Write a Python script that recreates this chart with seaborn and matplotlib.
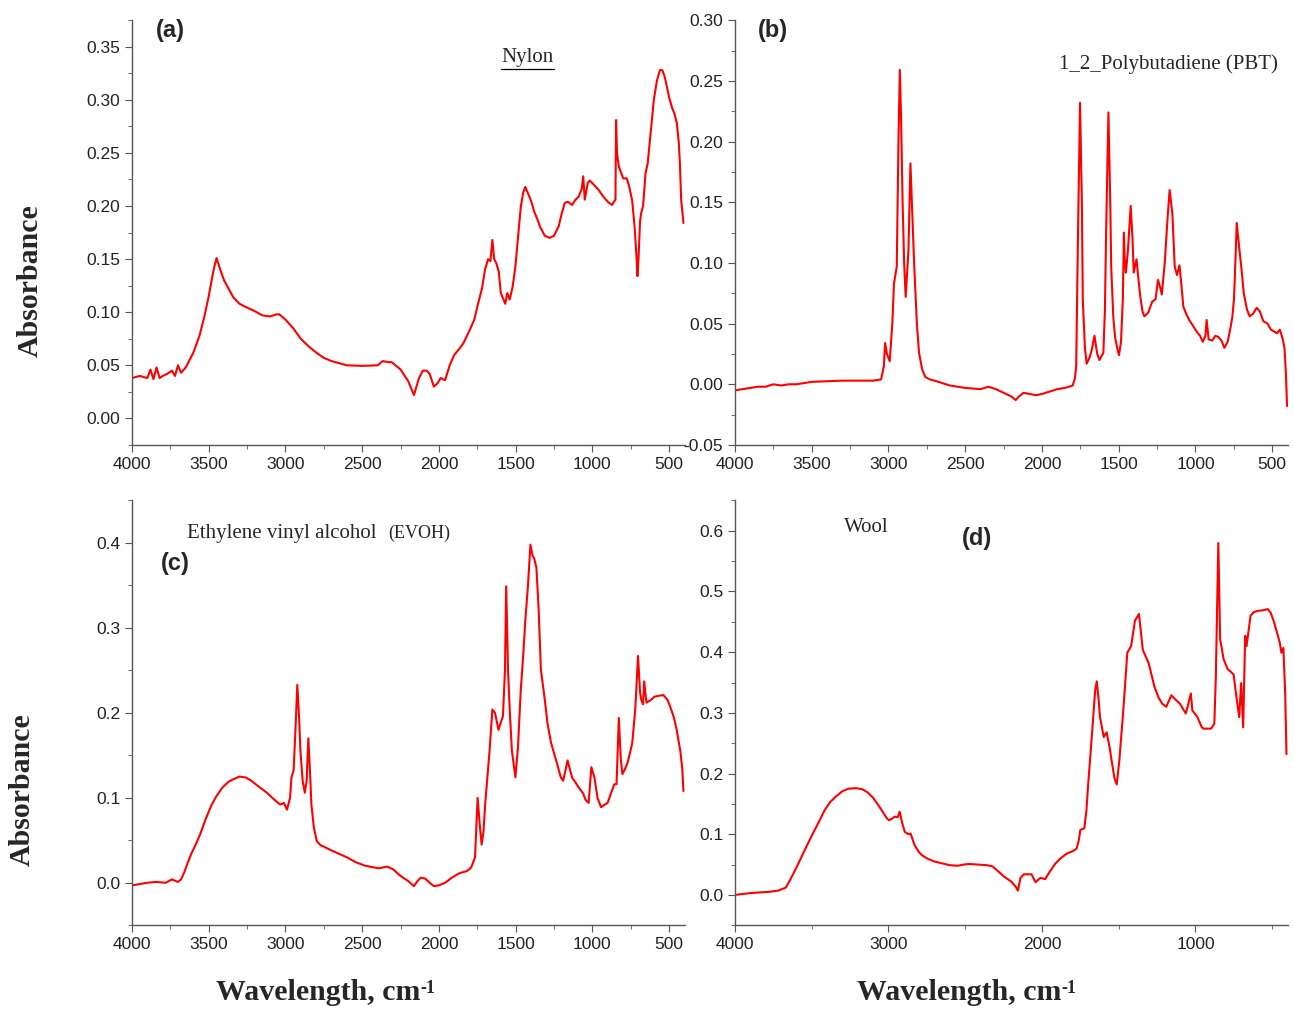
import numpy as np
import pandas as pd
import matplotlib
matplotlib.use('Agg')
import matplotlib.pyplot as plt
from matplotlib.ticker import MultipleLocator, FormatStrFormatter
import seaborn as sns

# (wavenumber, absorbance)
nylon = [(4000, 0.038), (3950, 0.040), (3900, 0.038), (3880, 0.046), (3860, 0.037), (3840, 0.048),
         (3820, 0.038), (3800, 0.040), (3770, 0.042), (3740, 0.045), (3720, 0.040), (3700, 0.050),
         (3680, 0.043), (3650, 0.048), (3600, 0.062), (3560, 0.078), (3530, 0.095), (3500, 0.115),
         (3475, 0.135), (3460, 0.145), (3449, 0.151), (3420, 0.138), (3400, 0.130), (3370, 0.122),
         (3340, 0.114), (3300, 0.108), (3260, 0.105), (3200, 0.101), (3150, 0.097), (3100, 0.096),
         (3060, 0.098), (3040, 0.098), (3000, 0.093), (2950, 0.085), (2900, 0.075), (2850, 0.068),
         (2800, 0.062), (2750, 0.057), (2700, 0.054), (2650, 0.052), (2600, 0.050), (2500, 0.0495),
         (2400, 0.050), (2366, 0.054), (2330, 0.053), (2308, 0.053), (2250, 0.046), (2200, 0.035),
         (2163, 0.022), (2130, 0.038), (2105, 0.045), (2080, 0.045), (2061, 0.042), (2033, 0.030),
         (2010, 0.033), (1989, 0.038), (1960, 0.036), (1930, 0.050), (1900, 0.060), (1870, 0.065),
         (1840, 0.071), (1800, 0.083), (1770, 0.093), (1740, 0.111), (1720, 0.122), (1700, 0.140),
         (1680, 0.150), (1665, 0.148), (1652, 0.168), (1640, 0.150), (1626, 0.146), (1610, 0.138),
         (1597, 0.118), (1580, 0.112), (1568, 0.108), (1555, 0.118), (1539, 0.112), (1520, 0.124),
         (1502, 0.143), (1485, 0.170), (1467, 0.199), (1452, 0.212), (1438, 0.218), (1420, 0.212),
         (1400, 0.205), (1380, 0.195), (1360, 0.188), (1340, 0.180), (1310, 0.172), (1280, 0.170),
         (1250, 0.172), (1220, 0.181), (1200, 0.193), (1180, 0.203), (1160, 0.204), (1133, 0.201),
         (1110, 0.206), (1089, 0.209), (1070, 0.216), (1060, 0.228), (1050, 0.206), (1030, 0.222),
         (1017, 0.224), (990, 0.220), (959, 0.215), (930, 0.209), (900, 0.204), (872, 0.201),
         (860, 0.204), (850, 0.206), (846, 0.281), (840, 0.250), (828, 0.237), (799, 0.226),
         (776, 0.226), (760, 0.218), (741, 0.205), (725, 0.180), (712, 0.150), (707, 0.134),
         (700, 0.150), (690, 0.185), (683, 0.193), (670, 0.200), (654, 0.231), (640, 0.240),
         (620, 0.270), (600, 0.300), (580, 0.318), (560, 0.328), (545, 0.328), (530, 0.322),
         (520, 0.316), (500, 0.302), (480, 0.292), (466, 0.287), (450, 0.278), (437, 0.259),
         (430, 0.240), (422, 0.206), (407, 0.184)]

pbt = [(4000, -0.005), (3900, -0.003), (3850, -0.002), (3800, -0.002), (3750, 0.000), (3700, -0.001),
       (3650, 0.000), (3600, 0.000), (3550, 0.001), (3500, 0.002), (3400, 0.0025), (3300, 0.003),
       (3200, 0.003), (3100, 0.003), (3048, 0.004), (3030, 0.015), (3022, 0.034), (3010, 0.025),
       (2992, 0.019), (2975, 0.050), (2964, 0.083), (2946, 0.097), (2935, 0.200), (2926, 0.259),
       (2918, 0.220), (2908, 0.150), (2898, 0.100), (2888, 0.072), (2870, 0.110), (2857, 0.182),
       (2845, 0.140), (2832, 0.097), (2815, 0.050), (2801, 0.026), (2780, 0.012), (2760, 0.006),
       (2730, 0.004), (2700, 0.003), (2650, 0.001), (2600, -0.001), (2500, -0.003), (2400, -0.004),
       (2350, -0.002), (2300, -0.004), (2250, -0.007), (2200, -0.010), (2171, -0.013),
       (2150, -0.010), (2120, -0.007), (2080, -0.008), (2040, -0.009), (2000, -0.008),
       (1950, -0.006), (1900, -0.004), (1850, -0.003), (1800, -0.001), (1785, 0.005),
       (1777, 0.015), (1765, 0.125), (1752, 0.232), (1740, 0.150), (1734, 0.070), (1720, 0.030),
       (1709, 0.017), (1690, 0.022), (1676, 0.028), (1658, 0.040), (1640, 0.025), (1625, 0.020),
       (1600, 0.026), (1590, 0.060), (1582, 0.125), (1567, 0.224), (1555, 0.150), (1549, 0.097),
       (1535, 0.055), (1524, 0.039), (1510, 0.030), (1498, 0.024), (1485, 0.035), (1473, 0.070),
       (1466, 0.125), (1460, 0.100), (1453, 0.092), (1440, 0.110), (1422, 0.147), (1410, 0.120),
       (1402, 0.092), (1384, 0.103), (1370, 0.085), (1359, 0.072), (1345, 0.060), (1333, 0.056),
       (1308, 0.059), (1282, 0.068), (1260, 0.070), (1244, 0.086), (1230, 0.080), (1219, 0.074),
       (1200, 0.100), (1180, 0.140), (1168, 0.160), (1150, 0.140), (1135, 0.097), (1120, 0.090),
       (1104, 0.098), (1090, 0.080), (1079, 0.064), (1060, 0.058), (1041, 0.053), (1015, 0.048),
       (990, 0.043), (970, 0.040), (952, 0.035), (935, 0.040), (927, 0.053), (914, 0.037),
       (890, 0.036), (870, 0.040), (851, 0.039), (830, 0.036), (812, 0.030), (790, 0.035),
       (774, 0.045), (760, 0.055), (749, 0.070), (740, 0.100), (731, 0.133), (716, 0.114),
       (700, 0.095), (685, 0.075), (665, 0.062), (647, 0.056), (625, 0.058), (601, 0.063),
       (580, 0.060), (558, 0.052), (530, 0.050), (508, 0.045), (480, 0.043), (469, 0.042),
       (450, 0.045), (431, 0.037), (420, 0.030), (411, 0.010), (403, -0.018)]

evoh = [(4000, -0.003), (3900, 0.000), (3846, 0.001), (3780, 0.000), (3740, 0.004), (3701, 0.001),
        (3680, 0.004), (3660, 0.012), (3640, 0.022), (3614, 0.034), (3580, 0.047), (3556, 0.057),
        (3520, 0.075), (3483, 0.091), (3450, 0.102), (3411, 0.112), (3370, 0.119), (3338, 0.122),
        (3300, 0.125), (3260, 0.124), (3222, 0.120), (3180, 0.114), (3121, 0.106), (3080, 0.099),
        (3034, 0.092), (3010, 0.094), (2990, 0.086), (2970, 0.100), (2961, 0.124), (2947, 0.132),
        (2935, 0.180), (2923, 0.233), (2910, 0.190), (2903, 0.156), (2888, 0.120), (2874, 0.106),
        (2862, 0.120), (2851, 0.170), (2840, 0.130), (2831, 0.092), (2815, 0.065), (2796, 0.049),
        (2770, 0.044), (2744, 0.042), (2700, 0.038), (2650, 0.034), (2600, 0.030), (2540, 0.024),
        (2480, 0.020), (2420, 0.018), (2395, 0.017), (2337, 0.019), (2300, 0.016), (2250, 0.008),
        (2200, 0.002), (2163, -0.004), (2140, 0.002), (2119, 0.006), (2090, 0.005), (2060, 0.000),
        (2033, -0.004), (2000, -0.003), (1960, 0.000), (1916, 0.006), (1870, 0.011), (1815, 0.014),
        (1790, 0.018), (1765, 0.030), (1748, 0.100), (1735, 0.070), (1722, 0.045), (1710, 0.060),
        (1699, 0.092), (1670, 0.156), (1652, 0.204), (1635, 0.200), (1612, 0.180), (1595, 0.190),
        (1583, 0.196), (1570, 0.250), (1562, 0.349), (1550, 0.250), (1539, 0.204), (1525, 0.156),
        (1502, 0.124), (1485, 0.160), (1467, 0.227), (1450, 0.270), (1438, 0.307), (1420, 0.350),
        (1404, 0.398), (1390, 0.385), (1380, 0.382), (1365, 0.371), (1350, 0.320), (1336, 0.251),
        (1310, 0.215), (1293, 0.188), (1270, 0.165), (1249, 0.152), (1230, 0.140), (1206, 0.124),
        (1191, 0.120), (1162, 0.144), (1133, 0.124), (1110, 0.118), (1089, 0.112), (1060, 0.105),
        (1046, 0.098), (1025, 0.094), (1007, 0.136), (987, 0.124), (967, 0.100), (944, 0.089),
        (920, 0.092), (901, 0.094), (880, 0.105), (857, 0.116), (843, 0.116), (828, 0.194),
        (815, 0.145), (805, 0.128), (790, 0.133), (770, 0.142), (741, 0.164), (721, 0.204),
        (703, 0.267), (690, 0.225), (683, 0.216), (670, 0.210), (663, 0.237), (648, 0.212),
        (620, 0.215), (596, 0.219), (570, 0.220), (538, 0.221), (510, 0.215), (495, 0.208),
        (470, 0.195), (451, 0.180), (440, 0.168), (428, 0.156), (415, 0.135), (407, 0.108)]

wool = [(4000, 0.0), (3900, 0.003), (3847, 0.004), (3780, 0.005), (3720, 0.007), (3669, 0.012),
        (3640, 0.025), (3600, 0.045), (3568, 0.062), (3530, 0.082), (3491, 0.102), (3450, 0.122),
        (3415, 0.140), (3380, 0.153), (3339, 0.163), (3300, 0.171), (3260, 0.175), (3212, 0.176),
        (3170, 0.174), (3136, 0.169), (3100, 0.160), (3072, 0.150), (3040, 0.138), (3010, 0.126),
        (2996, 0.123), (2975, 0.126), (2958, 0.129), (2940, 0.128), (2927, 0.137), (2910, 0.118),
        (2894, 0.104), (2870, 0.100), (2856, 0.101), (2830, 0.082), (2800, 0.070), (2780, 0.065),
        (2740, 0.059), (2700, 0.055), (2650, 0.052), (2600, 0.049), (2551, 0.048), (2510, 0.050),
        (2475, 0.051), (2420, 0.050), (2360, 0.049), (2322, 0.047), (2290, 0.040), (2246, 0.030),
        (2200, 0.022), (2169, 0.013), (2157, 0.007), (2140, 0.028), (2118, 0.034), (2090, 0.034),
        (2068, 0.034), (2042, 0.021), (2010, 0.028), (1979, 0.026), (1950, 0.038), (1915, 0.051),
        (1880, 0.060), (1839, 0.068), (1800, 0.072), (1775, 0.076), (1760, 0.090), (1750, 0.107),
        (1724, 0.110), (1710, 0.140), (1699, 0.182), (1674, 0.265), (1653, 0.338), (1643, 0.352),
        (1630, 0.320), (1622, 0.293), (1597, 0.260), (1579, 0.268), (1559, 0.243), (1546, 0.221),
        (1528, 0.193), (1513, 0.182), (1496, 0.221), (1470, 0.304), (1444, 0.399), (1419, 0.410),
        (1394, 0.452), (1368, 0.463), (1343, 0.404), (1305, 0.382), (1267, 0.343), (1240, 0.325),
        (1216, 0.315), (1190, 0.310), (1157, 0.329), (1130, 0.322), (1101, 0.315), (1063, 0.299),
        (1051, 0.310), (1030, 0.332), (1020, 0.304), (987, 0.293), (960, 0.277), (949, 0.274),
        (898, 0.274), (877, 0.282), (867, 0.360), (851, 0.580), (839, 0.421), (816, 0.388),
        (790, 0.372), (771, 0.368), (751, 0.363), (733, 0.326), (715, 0.293), (702, 0.349),
        (689, 0.276), (676, 0.427), (667, 0.410), (641, 0.460), (620, 0.466), (595, 0.468),
        (560, 0.469), (529, 0.471), (510, 0.465), (491, 0.452), (466, 0.430), (450, 0.415),
        (440, 0.399), (427, 0.407), (415, 0.330), (407, 0.232)]

sns.set_style("ticks")
plt.rcParams['font.family'] = ['Liberation Sans', 'DejaVu Sans']

fig = plt.figure(figsize=(12.94, 10.09), dpi=100)

# data, [l, b, w, h], ylim, y major step, y format, x major, x minor
panels = [
    (nylon, [0.102, 0.559, 0.427, 0.421], (-0.025, 0.375), 0.05, '%.2f', 500, 250),
    (pbt, [0.568, 0.559, 0.427, 0.421], (-0.05, 0.30), 0.05, '%.2f', 500, 250),
    (evoh, [0.102, 0.083, 0.427, 0.421], (-0.05, 0.45), 0.1, '%.1f', 500, 250),
    (wool, [0.568, 0.083, 0.427, 0.421], (-0.05, 0.65), 0.1, '%.1f', 1000, 500),
]

axes = []
for pts, rect, ylim, ymaj, yfmt, xmaj, xmin in panels:
    ax = fig.add_axes(rect)
    df = pd.DataFrame(pts, columns=['wn', 'abs'])
    sns.lineplot(data=df, x='wn', y='abs', ax=ax, color='red', linewidth=1.5,
                 sort=False, estimator=None)
    ax.set_xlim(4000, 400)
    ax.set_ylim(*ylim)
    ax.xaxis.set_major_locator(MultipleLocator(xmaj))
    ax.xaxis.set_minor_locator(MultipleLocator(xmin))
    ax.yaxis.set_major_locator(MultipleLocator(ymaj))
    ax.yaxis.set_minor_locator(MultipleLocator(ymaj / 2))
    ax.yaxis.set_major_formatter(FormatStrFormatter(yfmt))
    ax.set_xlabel('')
    ax.set_ylabel('')
    for s in ['top', 'right']:
        ax.spines[s].set_visible(False)
    for s in ['left', 'bottom']:
        ax.spines[s].set_color('#555555')
        ax.spines[s].set_linewidth(1.0)
    ax.tick_params(which='major', direction='out', length=5, color='#555555',
                   labelsize=12.5, labelcolor='#222222')
    ax.tick_params(which='minor', direction='out', length=3, color='#555555')
    axes.append(ax)

ax_a, ax_b, ax_c, ax_d = axes

tag_font = dict(fontsize=17, fontweight='bold', family=['Liberation Sans', 'DejaVu Sans'],
                ha='center', va='center')
serif = ['Liberation Serif', 'DejaVu Serif']

ax_a.text(0.069, 0.975, '(a)', transform=ax_a.transAxes, **tag_font)
ax_a.text(0.716, 0.911, 'Nylon', transform=ax_a.transAxes, fontsize=15, family=serif,
          ha='center', va='center')
ax_a.plot([0.668, 0.764], [0.885, 0.885], transform=ax_a.transAxes, color='black', lw=0.9)

ax_b.text(0.069, 0.975, '(b)', transform=ax_b.transAxes, **tag_font)
ax_b.text(0.982, 0.896, '1_2_Polybutadiene (PBT)', transform=ax_b.transAxes, fontsize=15,
          family=serif, ha='right', va='center')

ax_c.text(0.078, 0.852, '(c)', transform=ax_c.transAxes, **tag_font)
ax_c.text(0.0995, 0.922, 'Ethylene vinyl alcohol', transform=ax_c.transAxes, fontsize=15,
          family=serif, va='center')
ax_c.text(0.463, 0.922, '(EVOH)', transform=ax_c.transAxes, fontsize=13, family=serif,
          va='center')

ax_d.text(0.438, 0.911, '(d)', transform=ax_d.transAxes, **tag_font)
ax_d.text(0.197, 0.936, 'Wool', transform=ax_d.transAxes, fontsize=15, family=serif,
          va='center')

lab = dict(fontsize=21.5, fontweight='bold', family=serif)
fig.text(0.023, 0.722, 'Absorbance', rotation=90, ha='center', va='center', **lab)
fig.text(0.017, 0.217, 'Absorbance', rotation=90, ha='center', va='center', **lab)
# x labels: main text plus a small raised "-1"
for xc in [0.246, 0.741]:
    t = fig.text(xc, 0.016, 'Wavelength, cm', ha='center', va='center', **lab)
    plt.annotate('-1', xy=(1.0, 0.98), xycoords=t, ha='left', va='top',
                 fontsize=13, fontweight='bold', family=serif)

fig.savefig('out.png', dpi=100)
